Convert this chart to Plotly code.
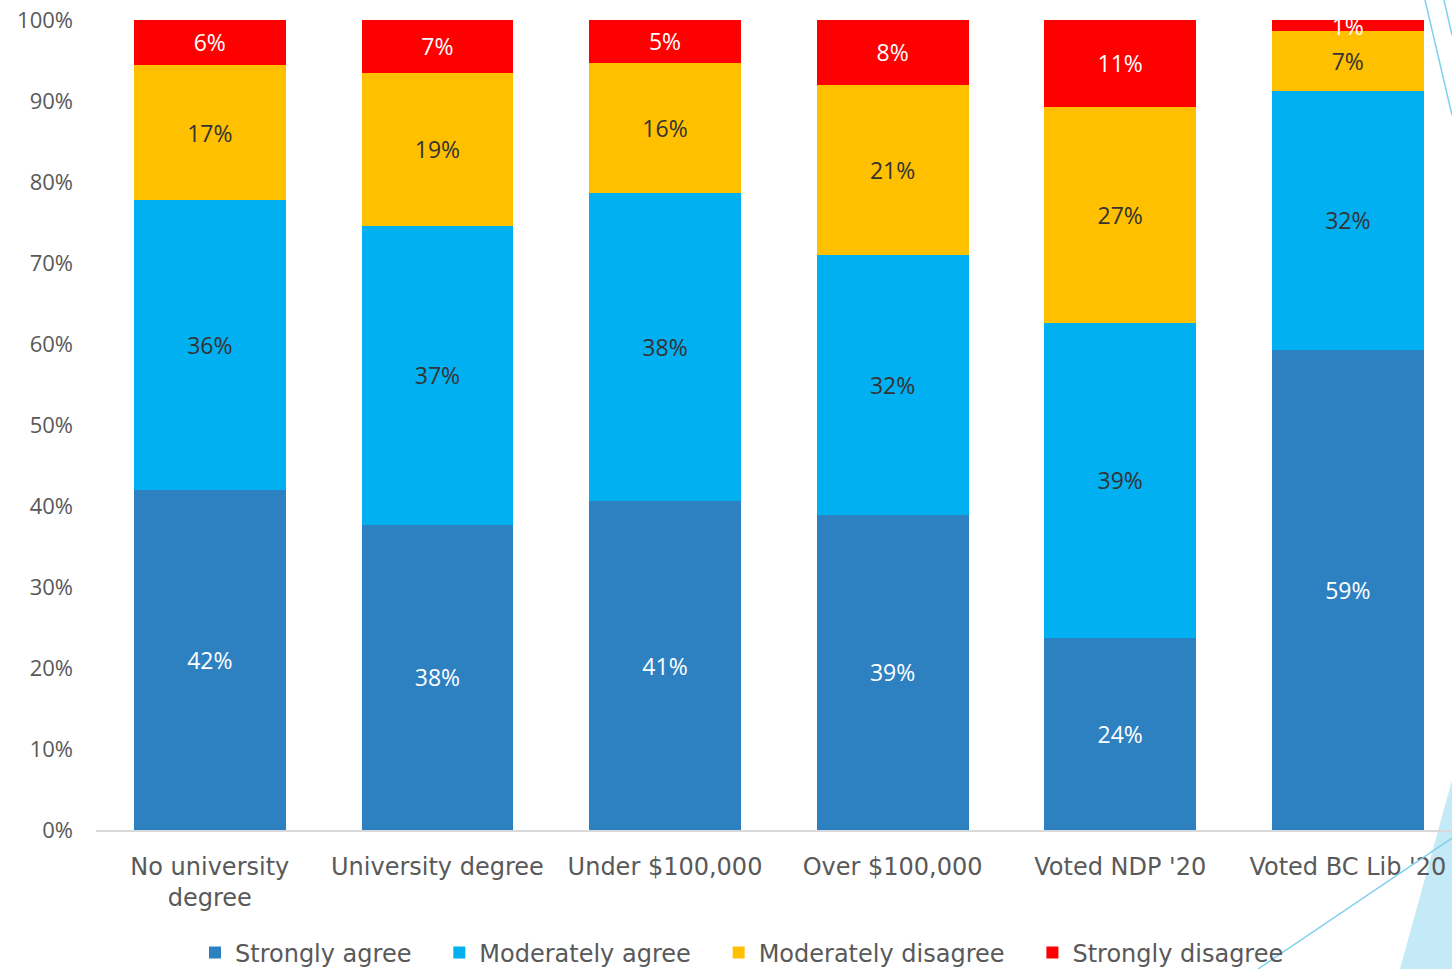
import plotly.graph_objects as go

categories = ["No university<br>degree", "University degree", "Under $100,000",
              "Over $100,000", "Voted NDP '20", "Voted BC Lib '20"]
strongly_agree = [42.0, 37.7, 40.6, 38.9, 23.7, 59.3]
moderately_agree = [35.8, 36.9, 38.0, 32.1, 38.9, 31.9]
moderately_disagree = [16.6, 18.9, 16.1, 21.0, 26.6, 7.4]
strongly_disagree = [5.7, 6.6, 5.3, 8.0, 10.9, 1.4]
y_ticks = list(range(0, 101, 10))
y_tick_labels = [f"{v}%" for v in y_ticks]

series = [
    ("Strongly agree", strongly_agree, "#2e81c1", "white"),
    ("Moderately agree", moderately_agree, "#00b0f0", "#333333"),
    ("Moderately disagree", moderately_disagree, "#ffc000", "#333333"),
    ("Strongly disagree", strongly_disagree, "#ff0000", "white"),
]

W, H = 1452, 969
L, R, T, B = 96, 0, 20, 139
pw, ph = W - L - R, H - T - B

def px(x):
    return (x - L) / pw

def py(y):
    return (H - B - y) / ph

pad = "\u00a0\u00a0\u00a0"

fig = go.Figure()
for name, vals, color, tcolor in series:
    fig.add_trace(go.Bar(
        x=categories, y=vals, name=name + pad,
        marker=dict(color=color, line=dict(width=0)),
        text=[f"{round(v):d}%" for v in vals],
        textposition="inside", insidetextanchor="middle",
        constraintext="none",
        textfont=dict(color=tcolor, size=23, family="Open Sans"),
        hoverinfo="skip",
    ))

shapes = [
    dict(type="path", xref="paper", yref="paper",
         path=f"M {px(1400)} {py(969)} L {px(1452)} {py(969)} L {px(1452)} {py(780)} Z",
         fillcolor="#c5eaf7", line=dict(width=0), layer="below"),
    dict(type="line", xref="paper", yref="paper",
         x0=px(1452), y0=py(838), x1=px(1258), y1=py(969),
         line=dict(color="#7fd0ec", width=1.5)),
    dict(type="line", xref="paper", yref="paper",
         x0=px(1425), y0=py(0), x1=px(1452), y1=py(115),
         line=dict(color="#7fd0ec", width=1.5)),
    dict(type="line", xref="paper", yref="paper",
         x0=px(1444), y0=py(0), x1=px(1452), y1=py(35),
         line=dict(color="#7fd0ec", width=1.5)),
]

fig.update_layout(
    width=W, height=H,
    margin=dict(l=L, r=R, t=T, b=B, autoexpand=False),
    barmode="stack", bargap=0.333,
    plot_bgcolor="white", paper_bgcolor="white",
    font=dict(family="DejaVu Sans", color="#595959"),
    showlegend=True,
    legend=dict(orientation="h", x=px(195), xanchor="left", y=py(953), yanchor="middle",
                bgcolor="rgba(0,0,0,0)",
                font=dict(size=24, family="DejaVu Sans", color="#595959"),
                itemwidth=30, tracegroupgap=0, traceorder="normal"),
    xaxis=dict(range=[-0.5, -0.5 + pw / 227.6], showgrid=False, showline=True,
               linecolor="#d9d9d9", linewidth=2, ticks="",
               ticklabelstandoff=14,
               tickfont=dict(size=24, family="DejaVu Sans", color="#595959")),
    yaxis=dict(range=[0, 100], showgrid=False, showline=False, zeroline=False,
               tickmode="array", tickvals=y_ticks, ticktext=y_tick_labels,
               ticklabelstandoff=22,
               tickfont=dict(size=22, family="Open Sans", color="#595959")),
    shapes=shapes,
)

fig.write_html("out.html", config={"displayModeBar": False},
               post_script="document.body.style.margin='0px';document.body.style.overflow='hidden';")
